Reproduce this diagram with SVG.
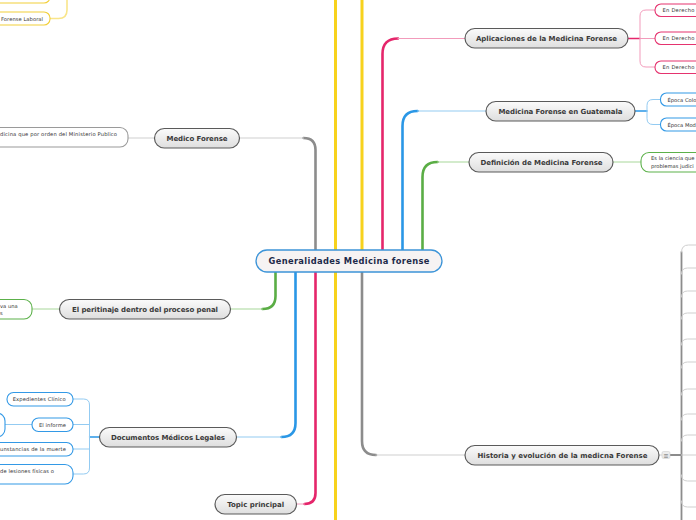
<svg xmlns="http://www.w3.org/2000/svg" width="696" height="520" viewBox="0 0 696 520">
<defs>
<linearGradient id="tg" x1="0" y1="0" x2="0" y2="1">
<stop offset="0" stop-color="#fbfbfb"/>
<stop offset="1" stop-color="#dedede"/>
</linearGradient>
<style>
.topic rect{fill:url(#tg);stroke:#5a5a5a;stroke-width:1.2}
.topic text{font-family:"DejaVu Sans",Verdana,sans-serif;font-weight:bold;font-size:7px;fill:#3a3a3a;text-anchor:middle}
.leaf rect{fill:#fff;stroke-width:1.1}
.leaf text{font-family:"DejaVu Sans",Verdana,sans-serif;font-size:5.2px;fill:#333}
.c path{fill:none;stroke-linecap:round}
.main{stroke-width:2.6}
.thin{stroke-width:1.2}
.pk{stroke:#e5266b}.pkl{stroke:#f29bbb}
.bl{stroke:#2a97e6}.bll{stroke:#93cbf2}
.gr{stroke:#5aad45}.grl{stroke:#a8d79a}
.gy{stroke:#8c8c8c}.gyl{stroke:#cfcfcf}
.ye{stroke:#f7d21c}.yel{stroke:#f9e58a}
.pkb{stroke:#e5336f}.blb{stroke:#3399e6}.grb{stroke:#5cb14a}.yeb{stroke:#f2cf3a}.gyb{stroke:#9a9a9a}
</style>
</defs>
<rect width="696" height="520" fill="#fff"/>

<g id="connectors" class="c">
<path class="ye" stroke-width="3" d="M335.5 0V520"/>
<path class="ye" stroke-width="3" d="M362 0V250"/>
<path class="gy main" d="M315.5 250V150Q315.5 138 303.5 138"/>
<path class="gyl thin" d="M303.5 138H239.5"/>
<path class="pk main" d="M382.5 250V54Q382.5 38.5 398 38.5"/>
<path class="pkl thin" d="M398 38.5H465"/>
<path class="bl main" d="M402.5 250V126Q402.5 111 417.5 111"/>
<path class="bll thin" d="M417.5 111H486"/>
<path class="gr main" d="M422.5 250V177Q422.5 162 437.5 162"/>
<path class="grl thin" d="M437.5 162H469"/>
<path class="gr main" d="M275.5 272V296Q275.5 309 262.5 309"/>
<path class="grl thin" d="M262.5 309H230.5"/>
<path class="bl main" d="M295.5 272V423Q295.5 437 281.5 437"/>
<path class="bll thin" d="M281.5 437H236.5"/>
<path class="pk main" d="M315.5 272V493Q315.5 504 304.5 504"/>
<path class="pkl thin" d="M304.5 504H296.5"/>
<path class="gy main" d="M362 272V441Q362 455 376 455"/>
<path class="gyl thin" d="M376 455H465"/>
<path class="gyl" stroke-width="1" d="M154.5 138H128"/>
<path class="grl" stroke-width="1" d="M59.5 309H32"/>
<path class="bl" stroke-width="1.3" d="M99.5 437H89.5"/>
<path class="bll" stroke-width="1" d="M73 399H83.5Q89.5 399 89.5 405V468Q89.5 474 83.5 474H73M73 424.5H89.5M73 449H89.5M32 424.5H5"/>
<path class="pk" stroke-width="1.5" d="M628 38.5H640"/>
<path class="pkl" stroke-width="1" d="M655 10H646Q640 10 640 16V61Q640 67 646 67H655M640 38.5H655"/>
<path class="bl" stroke-width="1.5" d="M635 111H647"/>
<path class="bll" stroke-width="1" d="M660.5 99.5H653Q647 99.5 647 105.5V118.5Q647 124.5 653 124.5H660.5"/>
<path class="grl" stroke-width="1" d="M613 162H641"/>
<path class="yel" stroke-width="1.6" d="M67 -10V10Q67 18.5 58.5 18.5H50"/>
<path class="gyl" stroke-width="1" d="M659 455H662"/>
<path class="gy" stroke-width="2" d="M670 455H681.5"/>
<path class="gy" stroke-width="1.8" d="M681.5 252V520"/>
<path class="gyl" stroke-width="1" d="M681.5 252Q681.5 245 688.5 245H696M681.5 274Q681.5 268 687.5 268H696M681.5 297Q681.5 291 687.5 291H696M681.5 319Q681.5 313 687.5 313H696M681.5 345Q681.5 339 687.5 339H696M681.5 368Q681.5 362 687.5 362H696M681.5 395Q681.5 389 687.5 389H696M681.5 420Q681.5 414 687.5 414H696M681.5 441Q681.5 435 687.5 435H696M681.5 455H696M681.5 475Q681.5 481 687.5 481H696M681.5 501Q681.5 507 687.5 507H696"/>
</g>

<g id="central">
<rect x="256" y="250" width="186" height="22" rx="11" fill="#f6f3f3" stroke="#3c94d8" stroke-width="1.3"/>
<text x="349" y="264.2" font-family="DejaVu Sans,Verdana,sans-serif" font-weight="bold" font-size="8.3" fill="#1d2a4a" text-anchor="middle" textLength="161">Generalidades Medicina forense</text>
</g>

<g id="medico-forense" class="topic"><rect x="154.5" y="128.5" width="85" height="19.5" rx="9.75"/><text x="197" y="140.5" textLength="61">Medico Forense</text></g>
<g id="peritinaje" class="topic"><rect x="59.5" y="299.5" width="171" height="19.5" rx="9.75"/><text x="145" y="311.5" textLength="146">El peritinaje dentro del proceso penal</text></g>
<g id="documentos" class="topic"><rect x="99.5" y="427.5" width="137" height="19.5" rx="9.75"/><text x="168" y="439.5" textLength="114">Documentos Médicos Legales</text></g>
<g id="topic-principal" class="topic"><rect x="215" y="494.5" width="81.5" height="19.5" rx="9.75"/><text x="255.7" y="506.5" textLength="57">Topic principal</text></g>
<g id="aplicaciones" class="topic"><rect x="465" y="28.5" width="163" height="19.5" rx="9.75"/><text x="546.5" y="40.8" textLength="141">Aplicaciones de la Medicina Forense</text></g>
<g id="guatemala" class="topic"><rect x="486" y="101.5" width="149" height="19.5" rx="9.75"/><text x="560.5" y="113.5" textLength="124">Medicina Forense en Guatemala</text></g>
<g id="definicion" class="topic"><rect x="469" y="152.5" width="144" height="19.5" rx="9.75"/><text x="541.5" y="164.5" textLength="122">Definición de Medicina Forense</text></g>
<g id="historia" class="topic"><rect x="465" y="445.5" width="194" height="19.5" rx="9.75"/><text x="562.5" y="457.5" textLength="170">Historia y evolución de la medicna Forense</text></g>

<g id="historia-icon">
<rect x="662" y="451.5" width="8" height="7" rx="1.5" fill="#ededed" stroke="#cfcfcf" stroke-width="0.6"/>
<text x="666" y="457.6" font-family="DejaVu Sans,sans-serif" font-size="6.5" fill="#666" text-anchor="middle">≡</text>
</g>

<g id="leaf-upper" class="leaf"><rect class="yeb" x="-6" y="-10" width="56" height="13" rx="6"/></g>
<g id="leaf-forense-laboral" class="leaf"><rect class="yeb" x="-6" y="12" width="56" height="13" rx="6"/><text x="1" y="20.5" textLength="42">Forense Laboral</text></g>
<g id="leaf-medico" class="leaf"><rect class="gyb" x="-8" y="127.5" width="136" height="19.5" rx="8"/><text x="0" y="136" textLength="117">dicina que por orden del Ministerio Publico</text></g>
<g id="leaf-peritinaje" class="leaf"><rect class="grb" x="-8" y="299.5" width="40" height="19.5" rx="8"/><text x="0" y="307.5">va una</text><text x="0" y="314.5">s</text></g>
<g id="leaf-expedientes" class="leaf"><rect class="blb" x="7" y="392.5" width="66" height="13.5" rx="6.5"/><text x="12.7" y="401" textLength="53">Expedientes Clínico</text></g>
<g id="leaf-informe" class="leaf"><rect class="blb" x="32" y="418" width="41" height="13.5" rx="6.5"/><text x="39" y="426.5" textLength="27">El informe</text></g>
<g id="leaf-informe-child" class="leaf"><rect class="blb" x="-20" y="413" width="25" height="24" rx="8"/></g>
<g id="leaf-circunstancias" class="leaf"><rect class="blb" x="-10" y="442.5" width="83" height="13.5" rx="6.5"/><text x="0" y="451" textLength="66">unstancias de la muerte</text></g>
<g id="leaf-lesiones" class="leaf"><rect class="blb" x="-10" y="464.5" width="83" height="19.5" rx="8"/><text x="0" y="472.5" textLength="54">de lesiones físicas o</text></g>
<g id="leaf-derecho-1" class="leaf"><rect class="pkb" x="655" y="4" width="60" height="12.5" rx="6"/><text x="662.5" y="12" textLength="32">En Derecho</text></g>
<g id="leaf-derecho-2" class="leaf"><rect class="pkb" x="655" y="32" width="60" height="12.5" rx="6"/><text x="662.5" y="40" textLength="32">En Derecho</text></g>
<g id="leaf-derecho-3" class="leaf"><rect class="pkb" x="655" y="61" width="60" height="12.5" rx="6"/><text x="662.5" y="69" textLength="32">En Derecho</text></g>
<g id="leaf-colonial" class="leaf"><rect class="blb" x="660.5" y="93" width="50" height="13" rx="6"/><text x="667.5" y="101.5">Época Colo</text></g>
<g id="leaf-moderna" class="leaf"><rect class="blb" x="660.5" y="118" width="50" height="13" rx="6"/><text x="667.5" y="126.5">Época Mod</text></g>
<g id="leaf-definicion" class="leaf"><rect class="grb" x="641" y="152.5" width="70" height="19.5" rx="8"/><text x="651" y="160">Es la ciencia que</text><text x="651" y="167.5">problemas judici</text></g>
</svg>
